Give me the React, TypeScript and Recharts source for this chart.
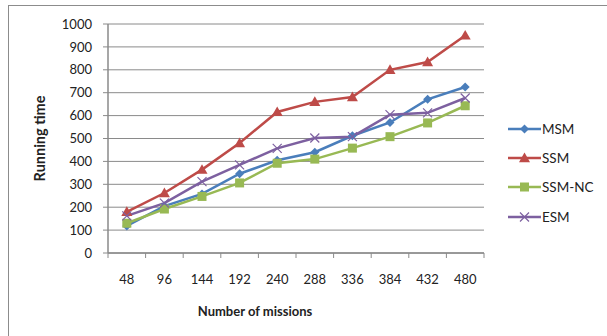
import { LineChart, Line, XAxis, YAxis, CartesianGrid } from "recharts";

const MISSIONS = ["48", "96", "144", "192", "240", "288", "336", "384", "432", "480"];
const MSM = [118, 205, 258, 346, 405, 440, 512, 570, 671, 725];
const SSM = [180, 262, 364, 480, 616, 660, 681, 800, 834, 950];
const SSM_NC = [130, 192, 247, 306, 392, 410, 458, 508, 568, 643];
const ESM = [162, 218, 312, 385, 457, 502, 508, 604, 612, 677];
const Y_TICKS = [0, 100, 200, 300, 400, 500, 600, 700, 800, 900, 1000];

const data = MISSIONS.map((m, i) => ({
  m,
  msm: MSM[i],
  ssm: SSM[i],
  ssmnc: SSM_NC[i],
  esm: ESM[i],
}));

const FONT = "Lato, 'Open Sans', sans-serif";
const GRID = "#8a8a8a";
const BAND = 37.6;

function Diamond({ cx, cy, fill }: any) {
  if (cx == null || cy == null) return null;
  const r = 4.5;
  return <path d={`M${cx},${cy - r}L${cx + r},${cy}L${cx},${cy + r}L${cx - r},${cy}Z`} fill={fill} />;
}
function Triangle({ cx, cy, fill }: any) {
  if (cx == null || cy == null) return null;
  const r = 5.5;
  return <path d={`M${cx},${cy - r}L${cx + r},${cy + r * 0.75}L${cx - r},${cy + r * 0.75}Z`} fill={fill} />;
}
function Square({ cx, cy, fill }: any) {
  if (cx == null || cy == null) return null;
  const r = 4.5;
  return <rect x={cx - r} y={cy - r} width={r * 2} height={r * 2} fill={fill} />;
}
function Cross({ cx, cy, stroke }: any) {
  if (cx == null || cy == null) return null;
  const r = 4.5;
  return (
    <path d={`M${cx - r},${cy - r}L${cx + r},${cy + r}M${cx - r},${cy + r}L${cx + r},${cy - r}`} stroke={stroke} strokeWidth={1.2} fill="none" />
  );
}

const SERIES = [
  { key: "msm", name: "MSM", color: "#4a7ebb", Marker: Diamond },
  { key: "ssm", name: "SSM", color: "#be4b48", Marker: Triangle },
  { key: "ssmnc", name: "SSM-NC", color: "#98b954", Marker: Square },
  { key: "esm", name: "ESM", color: "#7d60a0", Marker: Cross },
];

function XTick({ x, y, payload, index }: any) {
  const top = y - 8;
  return (
    <g>
      <line x1={x - BAND / 2} x2={x - BAND / 2} y1={top} y2={top + 5} stroke={GRID} />
      {index === MISSIONS.length - 1 && (
        <line x1={x + BAND / 2} x2={x + BAND / 2} y1={top} y2={top + 5} stroke={GRID} />
      )}
      <text x={x} y={y + 23} textAnchor="middle" fontSize={13} fontFamily={FONT} fill="#222">
        {payload.value}
      </text>
    </g>
  );
}

function ChartLegend() {
  return (
    <div style={{ position: "absolute", left: 508, top: 114, fontFamily: FONT, fontSize: 13.5, color: "#222" }}>
      {SERIES.map((s) => (
        <div key={s.key} style={{ display: "flex", alignItems: "center", height: 29.3 }}>
          <svg width={33} height={12}>
            <line x1={0} x2={33} y1={6} y2={6} stroke={s.color} strokeWidth={2.5} />
            <s.Marker cx={16.5} cy={6} fill={s.color} stroke={s.color} />
          </svg>
          <span style={{ marginLeft: 1 }}>{s.name}</span>
        </div>
      ))}
    </div>
  );
}

export default function App() {
  return (
    <div style={{ position: "fixed", left: 0, top: 0, width: 607, height: 336, background: "#fff", overflow: "hidden" }}>
      <div style={{ position: "absolute", left: 8, top: 5, width: 640, height: 360, border: "1.5px solid #8c8c8c" }} />
      <LineChart
        width={607}
        height={336}
        data={data}
        margin={{ top: 24, right: 123, bottom: 0, left: 0 }}
        style={{ position: "absolute", left: 0, top: 0 }}
      >
        <CartesianGrid vertical={false} stroke={GRID} strokeWidth={1} />
        <XAxis
          dataKey="m"
          height={83}
          padding={{ left: BAND / 2, right: BAND / 2 }}
          axisLine={{ stroke: GRID, strokeWidth: 1.5 }}
          tickLine={false}
          tick={<XTick />}
          interval={0}
          label={{
            value: "Number of missions",
            position: "insideBottom",
            offset: 20,
            dx: -41,
            style: { fontFamily: FONT, fontSize: 13, fontWeight: 700, fill: "#222" },
          }}
        />
        <YAxis
          width={108}
          domain={[0, 1000]}
          ticks={Y_TICKS}
          interval={0}
          axisLine={{ stroke: GRID, strokeWidth: 1.5 }}
          tickLine={{ stroke: GRID }}
          tickSize={5}
          tickMargin={11}
          tick={{ fontFamily: FONT, fontSize: 13, fill: "#222" }}
          label={{
            value: "Running time",
            angle: -90,
            position: "insideLeft",
            offset: 40,
            style: { fontFamily: FONT, fontSize: 14.5, fontWeight: 700, fill: "#222", textAnchor: "middle" },
          }}
        />
        {SERIES.map((s) => (
          <Line
            key={s.key}
            dataKey={s.key}
            name={s.name}
            type="linear"
            stroke={s.color}
            strokeWidth={2.5}
            dot={<s.Marker fill={s.color} stroke={s.color} />}
            activeDot={false}
            isAnimationActive={false}
          />
        ))}
      </LineChart>
      <ChartLegend />
    </div>
  );
}
